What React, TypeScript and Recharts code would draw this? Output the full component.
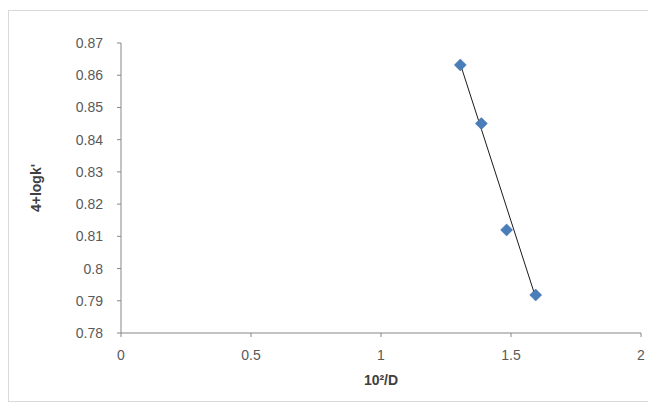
import { ScatterChart, Scatter, XAxis, YAxis } from 'recharts';

const xValues = [1.305, 1.386, 1.483, 1.595];
const yValues = [0.8632, 0.845, 0.812, 0.7918];

// fitted trend line end points
const trendX = [1.305, 1.597];
const trendY = [0.8635, 0.7905];

const xTicks = [0, 0.5, 1, 1.5, 2];
const yTicks = [0.78, 0.79, 0.8, 0.81, 0.82, 0.83, 0.84, 0.85, 0.86, 0.87];

const points = xValues.map((x, i) => ({ x, y: yValues[i] }));
const trend = trendX.map((x, i) => ({ x, y: trendY[i] }));

const tickStyle = { fill: '#595959', fontSize: 14, fontFamily: 'Liberation Sans, Arial, sans-serif' };

const Diamond = (props: any) => {
  const { cx, cy } = props;
  const r = 6;
  return (
    <polygon
      points={`${cx},${cy - r} ${cx + r},${cy} ${cx},${cy + r} ${cx - r},${cy}`}
      fill="#4a7ebb"
      stroke="#3d6aa3"
      strokeWidth={0.5}
    />
  );
};

export default function App() {
  return (
    <div
      style={{
        width: 648,
        height: 390,
        marginTop: 2,
        border: '1px solid #d9d9d9',
        background: '#fff',
      }}
    >
      <ScatterChart width={648} height={390} margin={{ top: 32, right: 16, bottom: 38, left: 0 }}>
        <XAxis
          type="number"
          dataKey="x"
          domain={[0, 2]}
          ticks={xTicks}
          tick={tickStyle}
          tickSize={4}
          tickMargin={13}
          stroke="#868686"
          allowDataOverflow
          label={{
            value: '10²/D',
            position: 'insideBottom',
            offset: -22,
            fill: '#404040',
            fontSize: 14,
            fontWeight: 'bold',
            fontFamily: 'Liberation Sans, Arial, sans-serif',
          }}
        />
        <YAxis
          type="number"
          dataKey="y"
          domain={[0.78, 0.87]}
          ticks={yTicks}
          tick={tickStyle}
          tickSize={4}
          tickMargin={14}
          stroke="#868686"
          width={112}
          allowDataOverflow
          label={{
            value: "4+logk'",
            angle: -90,
            position: 'insideLeft',
            offset: 27,
            fill: '#404040',
            fontSize: 14,
            fontWeight: 'bold',
            fontFamily: 'Liberation Sans, Arial, sans-serif',
            style: { textAnchor: 'middle' },
          }}
        />
        <Scatter
          data={trend}
          line={{ stroke: '#1a1a1a', strokeWidth: 1 }}
          shape={() => <g />}
          isAnimationActive={false}
        />
        <Scatter data={points} shape={<Diamond />} isAnimationActive={false} />
      </ScatterChart>
    </div>
  );
}
